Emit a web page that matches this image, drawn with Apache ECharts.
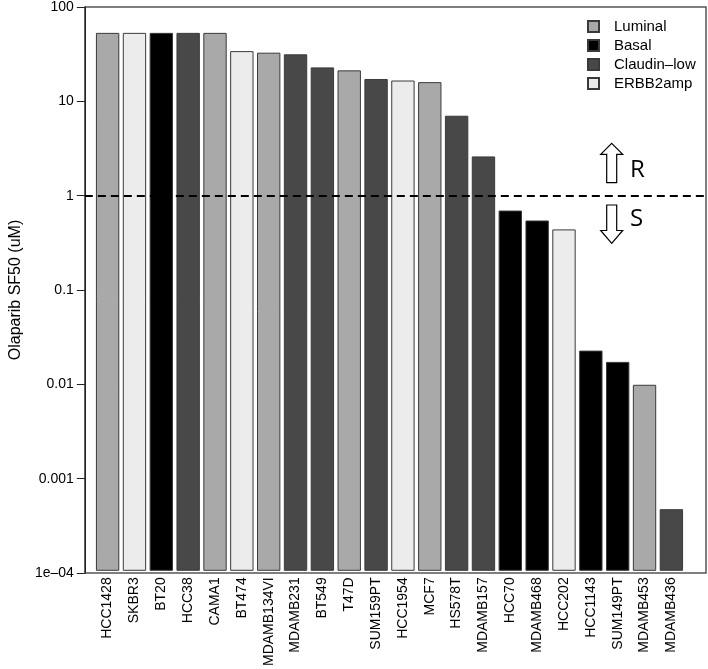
<!DOCTYPE html>
<html>
<head>
<meta charset="utf-8">
<script src="https://cdn.jsdelivr.net/npm/echarts@6/dist/echarts.min.js"></script>
<style>html,body{margin:0;padding:0;background:#fff}#c{width:708px;height:669px}</style>
</head>
<body>
<div id="c"></div>
<script>
const categories = ['HCC1428','SKBR3','BT20','HCC38','CAMA1','BT474','MDAMB134VI','MDAMB231','BT549','T47D','SUM159PT','HCC1954','MCF7','HS578T','MDAMB157','HCC70','MDAMB468','HCC202','HCC1143','SUM149PT','MDAMB453','MDAMB436'];
const sf50Values = [50,50,50,50,50,32,30.8,29.6,21.5,20,16.2,15.6,15,6.6,2.44,0.65,0.51,0.41,0.0212,0.0161,0.0092,0.00044];
const subtypes = ['Luminal','ERBB2amp','Basal','Claudin–low','Luminal','ERBB2amp','Luminal','Claudin–low','Claudin–low','Luminal','Claudin–low','ERBB2amp','Luminal','Claudin–low','Claudin–low','Basal','Basal','ERBB2amp','Basal','Basal','Luminal','Claudin–low'];
const subtypeNames = ['Luminal','Basal','Claudin–low','ERBB2amp'];
const subtypeColors = ['#a9a9a9','#000000','#484848','#ececec'];
const yTickValues = [0.0001,0.001,0.01,0.1,1,10,100];
const yTickLabels = ['1e–04','0.001','0.01','0.1','1','10','100'];
const threshold = 1;

const FONT = "'Liberation Sans', Arial, Helvetica, sans-serif";
const Y_MIN = yTickValues[0], Y_MAX = yTickValues[yTickValues.length - 1];
const chart = echarts.init(document.getElementById('c'), null, {renderer:'canvas'});

const barSeries = subtypeNames.map((name, k) => ({
  name: name,
  type: 'custom',
  xAxisIndex: 0,
  yAxisIndex: 0,
  itemStyle: {color: subtypeColors[k], borderColor: '#3a3a3a', borderWidth: 1},
  emphasis: {disabled: true},
  encode: {x: 0, y: 1},
  renderItem: function (params, api) {
    const i = api.value(0), v = api.value(1);
    const top = api.coord([i, v]);
    const bottom = api.coord([i, Y_MIN]);
    const w = api.size([1, 0])[0] / 1.2;
    return {type: 'rect',
      shape: {x: top[0] - w / 2, y: top[1], width: w, height: bottom[1] - top[1]},
      style: {fill: subtypeColors[k], stroke: '#3a3a3a', lineWidth: 1}};
  },
  data: sf50Values.map((v, i) => [i, v]).filter((d) => subtypes[d[0]] === name)
}));

function labelFor(v) {
  for (let i = 0; i < yTickValues.length; i++) {
    if (Math.abs(Math.log10(v) - Math.log10(yTickValues[i])) < 1e-6) return yTickLabels[i];
  }
  return '';
}

const option = {
  animation: false,
  backgroundColor: '#fff',
  textStyle: {fontFamily: FONT},
  grid: [
    {left: 94.2, width: 590.6, top: 5, bottom: 96, containLabel: false},
    {left: 73, right: 2, top: 5, bottom: 96, show: true, borderColor: '#555', borderWidth: 1.5, backgroundColor: 'transparent'}
  ],
  xAxis: [
    {type: 'category', gridIndex: 0, data: categories, boundaryGap: true,
     axisLine: {show: false}, axisTick: {show: false},
     axisLabel: {rotate: 90, fontSize: 14, color: '#000', margin: 7, interval: 0, fontFamily: FONT}},
    {type: 'value', gridIndex: 1, min: 0, max: 1, show: false}
  ],
  yAxis: [
    {type: 'log', gridIndex: 0, logBase: 10, min: Y_MIN, max: Y_MAX, show: false},
    {type: 'log', gridIndex: 1, logBase: 10, min: Y_MIN, max: Y_MAX,
     name: 'Olaparib SF50 (uM)', nameLocation: 'middle', nameGap: 60,
     nameTextStyle: {fontSize: 16, color: '#000', fontFamily: FONT},
     axisLine: {show: true, lineStyle: {color: '#222', width: 1}},
     axisTick: {show: true, length: 8, lineStyle: {color: '#222', width: 1}},
     splitLine: {show: false},
     axisLabel: {fontSize: 14, color: '#000', margin: 11, fontFamily: FONT, formatter: labelFor}}
  ],
  legend: {
    orient: 'vertical', left: 582, top: 14, itemWidth: 11, itemHeight: 11, itemGap: 4,
    icon: 'rect', selectedMode: false,
    textStyle: {fontSize: 15, color: '#000', fontFamily: FONT, padding: [0,0,0,10]},
    data: subtypeNames
  },
  series: barSeries.concat([{
    type: 'line', xAxisIndex: 1, yAxisIndex: 1, data: [], silent: true,
    markLine: {symbol: 'none', silent: true, label: {show: false},
      lineStyle: {color: '#000', width: 2, type: [8,5]},
      data: [{yAxis: threshold}]}
  }]),
  graphic: [
    {type: 'polygon', shape: {points: [[611.7,143.3],[622.7,154.3],[616.7,154.3],[616.7,182.7],[606.7,182.7],[606.7,154.3],[600.7,154.3]]},
     style: {fill: '#fff', stroke: '#000', lineWidth: 1.2}},
    {type: 'polygon', shape: {points: [[606.7,205],[616.7,205],[616.7,230.5],[622.7,230.5],[611.7,243.3],[600.7,230.5],[606.7,230.5]]},
     style: {fill: '#fff', stroke: '#000', lineWidth: 1.2}},
    {type: 'text', left: 630, top: 158, style: {text: 'R', fontSize: 24, fill: '#000', fontFamily: "'Open Sans', sans-serif"}},
    {type: 'text', left: 630, top: 207, style: {text: 'S', fontSize: 24, fill: '#000', fontFamily: "'Open Sans', sans-serif"}}
  ]
};
chart.setOption(option);
</script>
</body>
</html>
